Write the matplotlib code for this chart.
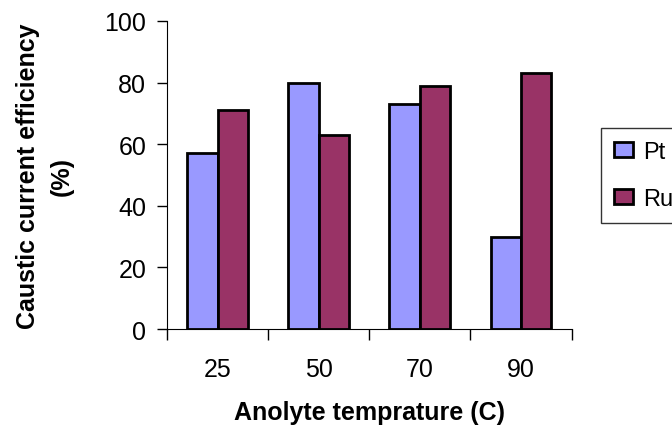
import numpy as np
import matplotlib.pyplot as plt

plt.rcParams['font.family'] = ['Liberation Sans', 'DejaVu Sans']

temps = ['25', '50', '70', '90']
pt_eff = [57, 80, 73, 30]
ru_eff = [71, 63, 79, 83]

fig = plt.figure(figsize=(6.72, 4.39), dpi=100, facecolor='white')
ax = fig.add_axes([0.2485, 0.248, 0.602, 0.702])

x = np.arange(len(temps))
w = 0.3
ax.bar(x - w / 2, pt_eff, w, color='#9999ff', edgecolor='black', linewidth=2, label='Pt')
ax.bar(x + w / 2, ru_eff, w, color='#993366', edgecolor='black', linewidth=2, label='Ru')

ax.set_xlim(-0.5, len(temps) - 0.5)
ax.set_ylim(0, 100)
ax.set_yticks(range(0, 101, 20))
# separators between groups on the major ticks, group labels on minor ticks
ax.set_xticks(np.arange(-0.5, len(temps), 1.0))
ax.set_xticklabels([])
ax.set_xticks(x, minor=True)
ax.set_xticklabels(temps, minor=True)
ax.tick_params(axis='x', which='major', direction='out', length=8, width=1)
ax.tick_params(axis='x', which='minor', length=0, pad=20, labelsize=18)
ax.tick_params(axis='y', direction='out', length=7, width=1, labelsize=18, pad=8)

for side in ('top', 'right'):
    ax.spines[side].set_visible(False)

ax.set_xlabel('Anolyte temprature (C)', fontsize=18, fontweight='bold', labelpad=14)
ax.set_ylabel('Caustic current efficiency\n(%)', fontsize=18, fontweight='bold',
              labelpad=22, linespacing=1.5)

leg = fig.legend(loc='upper left', bbox_to_anchor=(601 / 672, 1 - 129 / 439),
                 borderaxespad=0, frameon=True, fancybox=False, edgecolor='black',
                 fontsize=17, handlelength=0.8, handleheight=0.6, handletextpad=0.42,
                 labelspacing=1.05, borderpad=0.55)
leg.get_frame().set_linewidth(1)
for h in leg.legend_handles:
    h.set_linewidth(2)

fig.savefig('out.png', dpi=100, facecolor='white')
